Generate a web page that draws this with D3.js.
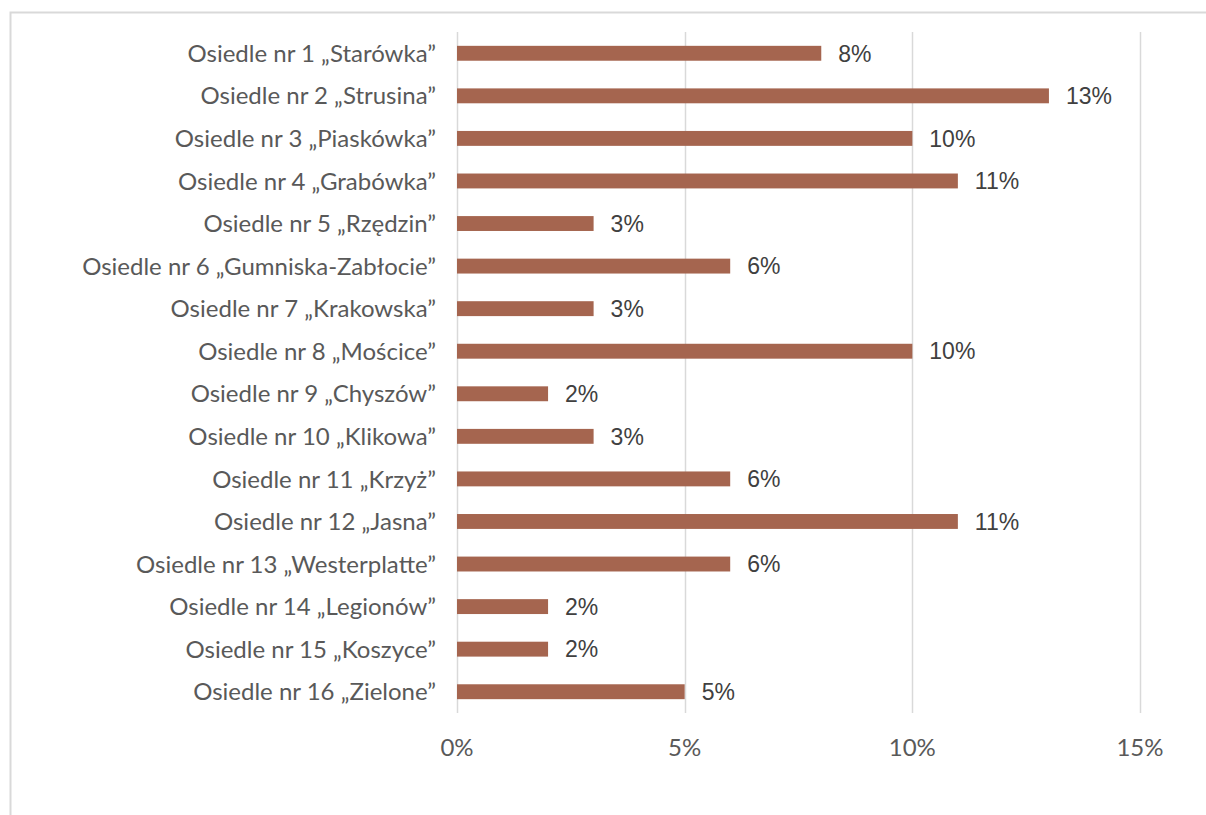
<!DOCTYPE html>
<html>
<head>
<meta charset="utf-8">
<script src="https://cdn.jsdelivr.net/npm/d3@7"></script>
<style>
  body { margin: 0; background: #fff; }
</style>
</head>
<body>
<div id="chart"></div>
<script>
// dane - osiedla i udział procentowy
const categories = [
  "Osiedle nr 1 „Starówka”",
  "Osiedle nr 2 „Strusina”",
  "Osiedle nr 3 „Piaskówka”",
  "Osiedle nr 4 „Grabówka”",
  "Osiedle nr 5 „Rzędzin”",
  "Osiedle nr 6 „Gumniska-Zabłocie”",
  "Osiedle nr 7 „Krakowska”",
  "Osiedle nr 8 „Mościce”",
  "Osiedle nr 9 „Chyszów”",
  "Osiedle nr 10 „Klikowa”",
  "Osiedle nr 11 „Krzyż”",
  "Osiedle nr 12 „Jasna”",
  "Osiedle nr 13 „Westerplatte”",
  "Osiedle nr 14 „Legionów”",
  "Osiedle nr 15 „Koszyce”",
  "Osiedle nr 16 „Zielone”"
];
const values = [8, 13, 10, 11, 3, 6, 3, 10, 2, 3, 6, 11, 6, 2, 2, 5];
const ticks = [0, 5, 10, 15];

const width = 1206, height = 815;
const svg = d3.select("#chart").append("svg")
  .attr("width", width)
  .attr("height", height);

// ramka wykresu
svg.append("path")
  .attr("d", "M10.5,815 V12.5 H1206")
  .attr("fill", "none")
  .attr("stroke", "#d9d9d9")
  .attr("stroke-width", 2);

const x = d3.scaleLinear().domain([0, 15]).range([457, 1140]);
const y = d3.scaleBand().domain(categories).range([32, 713]).paddingInner(0.65).paddingOuter(0.325);

// linie siatki
svg.append("g")
  .selectAll("line")
  .data(ticks)
  .join("line")
  .attr("x1", d => Math.round(x(d)) + 0.5)
  .attr("x2", d => Math.round(x(d)) + 0.5)
  .attr("y1", 32)
  .attr("y2", 713)
  .attr("stroke", "#d9d9d9")
  .attr("stroke-width", 1.5);

// słupki
svg.append("g")
  .selectAll("rect")
  .data(values)
  .join("rect")
  .attr("x", x(0))
  .attr("y", (d, i) => y(categories[i]))
  .attr("width", d => x(d) - x(0))
  .attr("height", y.bandwidth())
  .attr("fill", "#a5654f");

// etykiety wartości
svg.append("g")
  .selectAll("text")
  .data(values)
  .join("text")
  .attr("x", d => x(d) + 17)
  .attr("y", (d, i) => y(categories[i]) + y.bandwidth() / 2)
  .attr("dy", "0.36em")
  .attr("font-family", "'Liberation Sans', Arial, sans-serif")
  .attr("font-size", "23px")
  .attr("fill", "#404040")
  .text(d => d + "%");

// etykiety kategorii
svg.append("g")
  .selectAll("text")
  .data(categories)
  .join("text")
  .attr("x", 436)
  .attr("y", d => y(d) + y.bandwidth() / 2)
  .attr("dy", "0.36em")
  .attr("text-anchor", "end")
  .attr("font-family", "Lato, sans-serif")
  .attr("font-size", "24px")
  .attr("fill", "#595959")
  .text(d => d);

// oś X
svg.append("g")
  .selectAll("text")
  .data(ticks)
  .join("text")
  .attr("x", d => x(d))
  .attr("y", 747)
  .attr("dy", "0.36em")
  .attr("text-anchor", "middle")
  .attr("font-family", "Lato, sans-serif")
  .attr("font-size", "24px")
  .attr("fill", "#595959")
  .text(d => d + "%");
</script>
</body>
</html>
